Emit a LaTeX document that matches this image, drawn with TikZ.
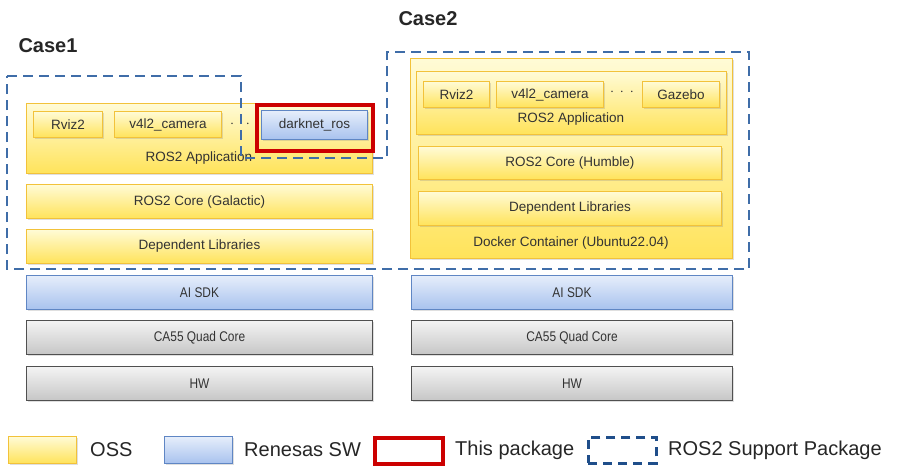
\documentclass[tikz,border=0pt]{standalone}
\usepackage{fontspec}
\setmainfont{Liberation Sans}
\newfontfamily\narrowfont[FakeStretch=0.85]{Liberation Sans}
\usetikzlibrary{shadows}
\definecolor{ytop}{HTML}{FFFBD6}
\definecolor{ybot}{HTML}{FFE35A}
\definecolor{yline}{HTML}{F2C23A}
\definecolor{btop}{HTML}{E6EEFB}
\definecolor{bbot}{HTML}{A8C2EE}
\definecolor{bline}{HTML}{5F86C4}
\definecolor{gtop}{HTML}{F4F4F4}
\definecolor{gbot}{HTML}{C6C6C6}
\definecolor{gline}{HTML}{505050}
\definecolor{redpk}{HTML}{CC0000}
\definecolor{dashblue}{HTML}{3F6DA8}
\definecolor{legblue}{HTML}{1F4E8A}
\definecolor{txt}{HTML}{333333}
\tikzset{
  x=1pt, y=-1pt,
  box/.style={rectangle, anchor=north west, inner sep=0pt, line width=1pt,
    drop shadow={shadow xshift=1pt, shadow yshift=-1.5pt, opacity=0.25}},
  ybox/.style={box, draw=yline, top color=ytop, bottom color=ybot},
  bbox/.style={box, draw=bline, top color=btop, bottom color=bbot},
  gbox/.style={box, draw=gline, top color=gtop, bottom color=gbot},
  lbl/.style={text=txt, font=\fontsize{13.5}{16}\selectfont, inner sep=0pt},
  nlbl/.style={text=txt, font=\narrowfont\fontsize{14}{16}\selectfont, inner sep=0pt},
  leg/.style={text=black!85, font=\fontsize{20}{24}\selectfont, inner sep=0pt, anchor=west},
  casel/.style={text=black!85, font=\fontsize{20}{24}\selectfont\bfseries, inner sep=0pt},
  pkgdash/.style={draw=dashblue, line width=2.8pt, dash pattern=on 10pt off 6pt},
  redframe/.style={draw=redpk, line width=3.5pt},
}
\begin{document}
\begin{tikzpicture}
\useasboundingbox[fill=white] (0,0) rectangle (900,475);

% Case labels
\node[casel] (case1) at (48,46) {Case1};
\node[casel] (case2) at (428,19) {Case2};

% ---------- Case 1 ----------
\node[ybox, minimum width=346, minimum height=70] (app1) at (26,103) {};
\node[ybox, minimum width=69, minimum height=26] (rviz1) at (33,111) {};
\node[lbl] (rviz1t) at (rviz1.center) {Rviz2};
\node[ybox, minimum width=107, minimum height=26] (cam1) at (114,111) {};
\node[lbl] (cam1t) at (cam1.center) {v4l2\_camera};
\node[bbox, minimum width=106, minimum height=29] (dark) at (261,110) {};
\node[lbl] (darkt) at (dark.center) {darknet\_ros};
\node[lbl] (dots1) at (240,124) {$\cdot$\hspace{12pt}$\cdot$};
\node[lbl] (app1t) at (199,158) {ROS2 Application};
\node[ybox, minimum width=346, minimum height=34] (core1) at (26,184) {};
\node[lbl] (core1t) at (core1.center) {ROS2 Core (Galactic)};
\node[ybox, minimum width=346, minimum height=34] (dep1) at (26,229) {};
\node[lbl] (dep1t) at (dep1.center) {Dependent Libraries};
\node[bbox, minimum width=346, minimum height=34] (sdk1) at (26,275) {};
\node[nlbl] (sdk1t) at (sdk1.center) {AI SDK};
\node[gbox, minimum width=346, minimum height=34] (ca1) at (26,320) {};
\node[nlbl] (ca1t) at (ca1.center) {CA55 Quad Core};
\node[gbox, minimum width=346, minimum height=34] (hw1) at (26,366) {};
\node[nlbl] (hw1t) at (hw1.center) {HW};

% this package frame
\node[redframe, rectangle, anchor=north west, minimum width=116, minimum height=46, inner sep=0pt] (redbox) at (255,103) {};

% ---------- Case 2 ----------
\node[ybox, minimum width=322, minimum height=200] (dock) at (410,58) {};
\node[ybox, minimum width=310, minimum height=63] (app2) at (416,71) {};
\node[ybox, minimum width=66, minimum height=26] (rviz2) at (423,81) {};
\node[lbl] (rviz2t) at (rviz2.center) {Rviz2};
\node[ybox, minimum width=107, minimum height=26] (cam2) at (496,81) {};
\node[lbl] (cam2t) at (cam2.center) {v4l2\_camera};
\node[ybox, minimum width=77, minimum height=26] (gaz) at (642,81) {};
\node[lbl] (gazt) at (gaz.center) {Gazebo};
\node[lbl] (dots2) at (622,92) {$\cdot$\hspace{6pt}$\cdot$\hspace{6pt}$\cdot$};
\node[lbl] (app2t) at (571,119) {ROS2 Application};
\node[ybox, minimum width=303, minimum height=33] (core2) at (418,146) {};
\node[lbl] (core2t) at (core2.center) {ROS2 Core (Humble)};
\node[ybox, minimum width=303, minimum height=34] (dep2) at (418,191) {};
\node[lbl] (dep2t) at (dep2.center) {Dependent Libraries};
\node[lbl] (dockt) at (571,243) {Docker Container (Ubuntu22.04)};
\node[bbox, minimum width=321, minimum height=34] (sdk2) at (411,275) {};
\node[nlbl] (sdk2t) at (sdk2.center) {AI SDK};
\node[gbox, minimum width=321, minimum height=34] (ca2) at (411,320) {};
\node[nlbl] (ca2t) at (ca2.center) {CA55 Quad Core};
\node[gbox, minimum width=321, minimum height=34] (hw2) at (411,366) {};
\node[nlbl] (hw2t) at (hw2.center) {HW};

% ROS2 support package outline
\draw[pkgdash] (7,76) -- (241,76) -- (241,158) -- (387,158) -- (387,52) -- (749,52) -- (749,269) -- (7,269) -- cycle;

% ---------- Legend ----------
\node[ybox, minimum width=68, minimum height=27] (legy) at (8,436) {};
\node[leg] (legyt) at (90,450) {OSS};
\node[bbox, minimum width=68, minimum height=27] (legb) at (164,436) {};
\node[leg] (legbt) at (244,450) {Renesas SW};
\node[redframe, rectangle, anchor=north west, minimum width=68, minimum height=26, inner sep=0pt] (legr) at (373,436) {};
\node[leg] (legrt) at (455,450) {This package};
\node[draw=legblue, line width=2.8pt, dash pattern=on 9pt off 6pt, rectangle, anchor=north west, minimum width=68, minimum height=26, inner sep=0pt] (legd) at (587,436) {};
\node[leg] (legdt) at (668,450) {ROS2 Support Package};
\end{tikzpicture}
\end{document}
